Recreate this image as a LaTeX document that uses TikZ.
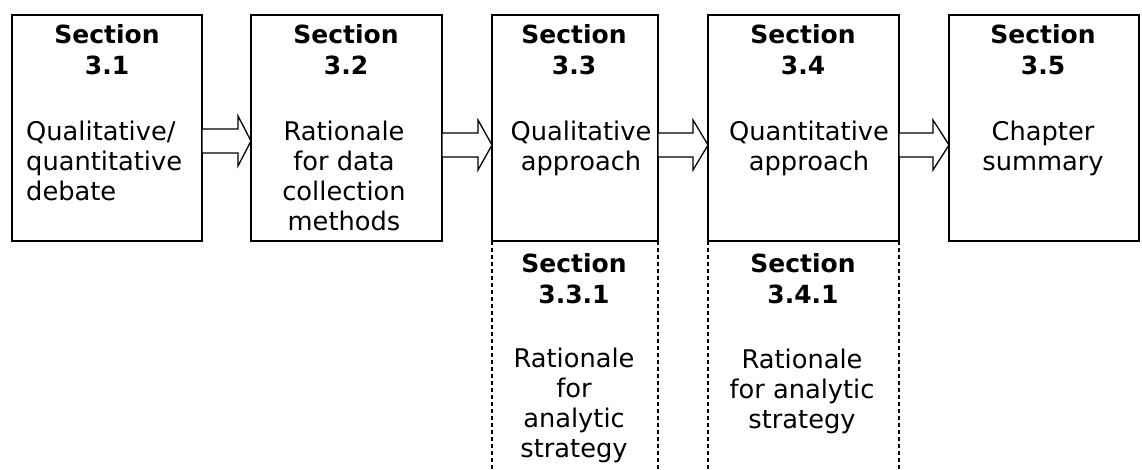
\documentclass[tikz,border=0pt]{standalone}
\usepackage{fontspec}
\setmainfont{DejaVu Sans}
\begin{document}
\begin{tikzpicture}[x=1pt,y=-1pt,
  box/.style={draw,line width=2.2pt,inner sep=0pt,outer sep=0pt,anchor=north west},
  ttl/.style={font=\fontsize{25}{30.5}\selectfont\bfseries,align=center,inner sep=0pt,anchor=base},
  bdy/.style={font=\fontsize{25.7}{30}\selectfont,align=center,inner sep=0pt,anchor=base},
  dotline/.style={line width=2.2pt,dash pattern=on 4pt off 3pt},
  barrow/.style={line width=1.3pt,line join=miter,fill=white}]
\useasboundingbox (0,0) rectangle (1142,469);
\coordinate (bottom) at (0,469);
% boxes
\node[box,minimum width=190,minimum height=226] (b1) at (12,15) {};
\node[box,minimum width=191,minimum height=226] (b2) at (251,15) {};
\node[box,minimum width=166,minimum height=226] (b3) at (492,15) {};
\node[box,minimum width=191,minimum height=226] (b4) at (708,15) {};
\node[box,minimum width=190,minimum height=226] (b5) at (949,15) {};
% dashed sides of lower sections
\draw[dotline] (b3.south west) -- (b3.south west |- bottom);
\draw[dotline] (b3.south east) -- (b3.south east |- bottom);
\draw[dotline] (b4.south west) -- (b4.south west |- bottom);
\draw[dotline] (b4.south east) -- (b4.south east |- bottom);
% block arrows
\newcommand\blockarr[4]{%
  \draw[barrow] (#1.east |- 0,{#3-12}) -- (#4,{#3-12}) -- (#4,{#3-25})
    -- (#2.west |- 0,#3) -- (#4,{#3+25}) -- (#4,{#3+12})
    -- (#1.east |- 0,{#3+12}) -- cycle;}
\blockarr{b1}{b2}{141}{238}
\blockarr{b2}{b3}{145}{478}
\blockarr{b3}{b4}{145}{693}
\blockarr{b4}{b5}{145}{933}
% titles (anchor = baseline of last line)
\node[ttl] (t1) at (107,74) {Section\\3.1};
\node[ttl] (t2) at (346,74) {Section\\3.2};
\node[ttl] (t3) at (574,74) {Section\\3.3};
\node[ttl] (t4) at (803,74) {Section\\3.4};
\node[ttl] (t5) at (1043,74) {Section\\3.5};
\node[ttl] (t31) at (574,303) {Section\\3.3.1};
\node[ttl] (t41) at (803,303) {Section\\3.4.1};
% bodies
\node[bdy,align=left,anchor=base west] (d1) at (26,200) {Qualitative/\\quantitative\\debate};
\node[bdy] (d2) at (344,230) {Rationale\\for data\\collection\\methods};
\node[bdy] (d3) at (581,170) {Qualitative\\approach};
\node[bdy] (d4) at (809,170) {Quantitative\\approach};
\node[bdy] (d5) at (1043,170) {Chapter\\summary};
\node[bdy] (d31) at (574,457) {Rationale\\for\\analytic\\strategy};
\node[bdy] (d41) at (802,428) {Rationale\\for analytic\\strategy};
\end{tikzpicture}
\end{document}
